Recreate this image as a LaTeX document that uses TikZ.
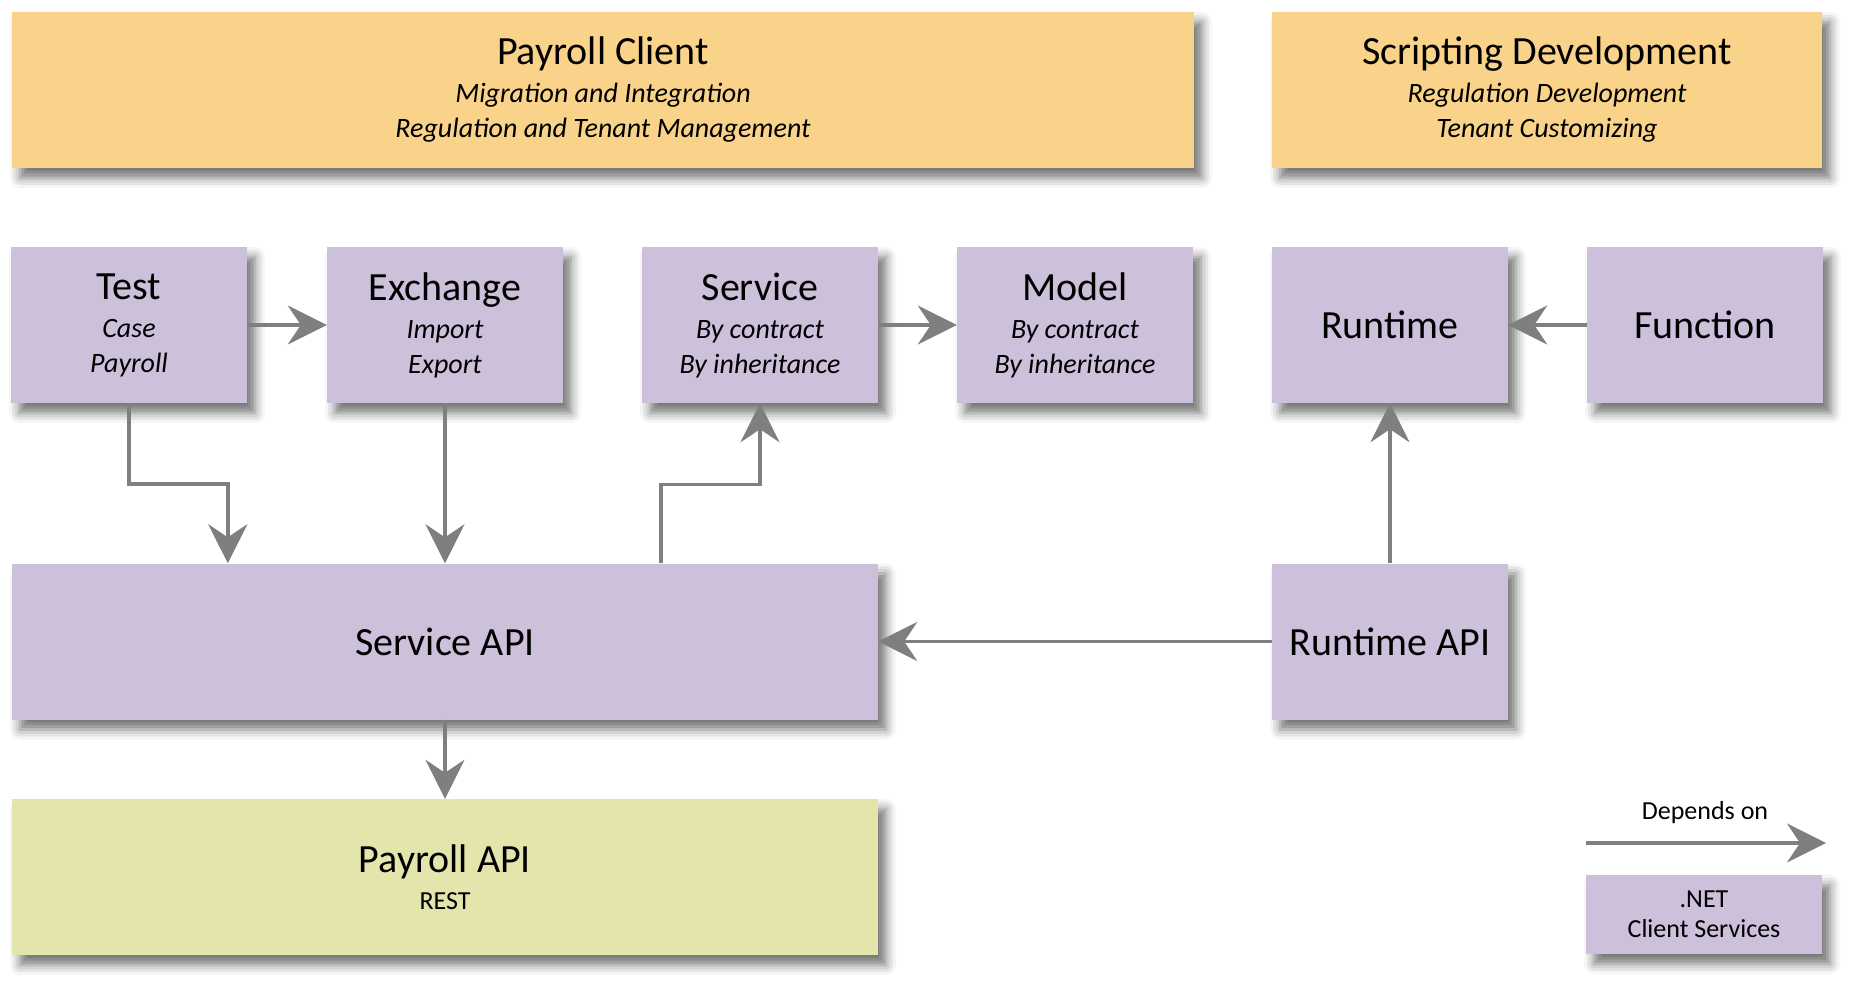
\documentclass[tikz,border=0pt]{standalone}
\usepackage{fontspec}
\setmainfont{Carlito}
\usetikzlibrary{arrows.meta,shadows.blur}

\definecolor{clientorange}{HTML}{F9D389}
\definecolor{netlilac}{HTML}{CCC0DA}
\definecolor{restgreen}{HTML}{E3E5AD}
\definecolor{depgray}{HTML}{7F7F7F}

\newcommand{\bigtxt}{\fontsize{40}{35}\selectfont}
\newcommand{\smalltxt}{\fontsize{28}{35}\selectfont\itshape}
\newcommand{\legendtxt}{\fontsize{26}{30}\selectfont}

\tikzset{
  block/.style={fill=netlilac, align=center, inner sep=0pt, font=\bigtxt,
    minimum width=236pt, minimum height=156pt,
    blur shadow={shadow xshift=8pt, shadow yshift=-10pt, shadow blur radius=10pt, shadow opacity=55}},
  client/.style={block, fill=clientorange},
  dep/.style={draw=depgray, line width=3.5pt, -{Stealth[length=39pt,width=39pt,inset=13pt]}}
}

\begin{document}
\begin{tikzpicture}[x=1pt, y=-1pt]
  \useasboundingbox (0,0) rectangle (1865,996);

  \node[client, minimum width=1182pt] (pclient) at (603,90) {Payroll Client\\[3pt] \smalltxt Migration and Integration\\ \smalltxt Regulation and Tenant Management};
  \node[client, minimum width=550pt] (scripting) at (1547,90) {Scripting Development\\[3pt] \smalltxt Regulation Development\\ \smalltxt Tenant Customizing};

  \node[block] (test) at (129,325) {Test\\[3pt] \smalltxt Case\\ \smalltxt Payroll};
  \node[block] (exchange) at (445,325) {Exchange\\[3pt] \smalltxt Import\\ \smalltxt Export};
  \node[block] (service) at (760,325) {Service\\[3pt] \smalltxt By contract\\ \smalltxt By inheritance};
  \node[block] (model) at (1075,325) {Model\\[3pt] \smalltxt By contract\\ \smalltxt By inheritance};
  \node[block] (runtime) at (1390,325) {Runtime};
  \node[block] (function) at (1705,325) {Function};

  \node[block, minimum width=866pt] (sapi) at (445,641.5) {Service API};
  \node[block] (rapi) at (1390,641.5) {Runtime API};
  \node[block, fill=restgreen, minimum width=866pt] (papi) at (445,877) {Payroll API\\[2pt] \legendtxt REST};

  \draw[dep] (test) -- (exchange);
  \draw[dep] (service) -- (model);
  \draw[dep] (function) -- (runtime);
  \draw[dep] (test.south) -- ++(0,81) -| ([xshift=216pt]sapi.north west);
  \draw[dep] (exchange.south) -- (sapi.north);
  \draw[dep] ([xshift=649pt]sapi.north west) -- ++(0,-79) -| (service.south);
  \draw[dep] (rapi.north) -- (runtime.south);
  \draw[dep] (rapi.west) -- (sapi.east);
  \draw[dep] (sapi.south) -- (papi.north);

  % legend
  \coordinate (lstart) at (1586,843);
  \coordinate (lend) at (1826,843);
  \draw[dep] (lstart) -- (lend);
  \node[font=\legendtxt] (deplabel) at (1705,813) {Depends on};
  \node[block, font=\legendtxt, minimum height=79pt] (netbox) at (1704,914.5) {.NET\\ Client Services};
\end{tikzpicture}
\end{document}
